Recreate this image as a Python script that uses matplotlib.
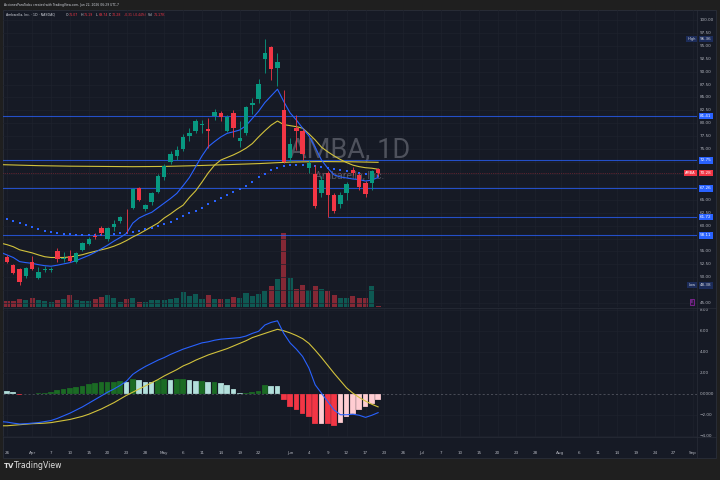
import matplotlib
matplotlib.use("Agg")
import matplotlib.pyplot as plt
import matplotlib.transforms as mtransforms
import numpy as np

# ---- data (trading-day index 0 = Mar 26 2026, 59 = Jun 22 2026) ----
opens = [53.8, 52.3, 51.6, 50.2, 52.9, 49.9, 51.3, 51.3, 55.1, 53.5,
         54.15, 53.0, 55.3, 56.5, 57.9, 59.6, 57.4, 59.8, 60.9, 61.7,
         63.5, 67.3, 63.2, 64.7, 66.6, 69.5, 72.5, 73.5, 75.0, 77.5,
         78.5, 79.7, 78.8, 81.4, 81.9, 78.5, 82.0, 76.6, 78.0, 83.5,
         84.6, 92.5, 94.9, 90.8, 82.6, 73.1, 79.0, 78.5, 71.2, 70.1,
         66.3, 70.3, 66.0, 64.2, 66.3, 70.9, 69.9, 68.4, 68.3, 71.07]
highs = [54.2, 52.6, 51.8, 52.0, 54.0, 51.9, 52.1, 52.0, 55.6, 54.8,
         55.2, 54.9, 56.8, 57.8, 58.5, 59.9, 59.8, 61.2, 61.8, 63.2,
         67.4, 67.6, 64.3, 66.6, 70.0, 72.0, 74.5, 75.5, 77.8, 79.0,
         80.8, 80.6, 81.0, 82.8, 82.3, 81.6, 82.5, 80.4, 83.4, 84.8,
         88.6, 96.36, 95.0, 93.7, 86.5, 77.0, 81.6, 78.8, 72.8, 71.8,
         69.6, 70.6, 66.4, 66.5, 68.5, 71.5, 70.2, 68.8, 70.9, 71.19]
lows = [52.8, 50.6, 48.38, 49.8, 51.3, 49.6, 50.9, 50.9, 53.0, 53.0,
        52.9, 52.8, 55.0, 56.2, 57.4, 58.2, 57.0, 58.9, 60.5, 58.5,
        63.2, 64.9, 62.8, 64.0, 66.4, 69.0, 72.0, 72.8, 74.5, 76.5,
        78.0, 78.0, 75.2, 80.6, 80.5, 78.2, 77.3, 75.3, 77.6, 81.8,
        84.0, 89.7, 88.4, 87.2, 72.2, 72.4, 74.8, 72.9, 70.2, 63.5,
        65.6, 61.72, 62.4, 63.4, 65.0, 69.8, 67.0, 65.6, 67.0, 69.74]
closes = [53.0, 50.8, 49.1, 51.8, 51.5, 51.0, 51.5, 51.5, 53.5, 53.6,
          53.1, 54.7, 56.6, 57.5, 57.8, 58.5, 59.6, 60.4, 61.6, 61.6,
          67.2, 65.0, 64.0, 66.3, 69.6, 71.6, 74.0, 74.8, 77.3, 78.0,
          80.4, 79.8, 78.4, 82.2, 81.1, 81.25, 79.0, 77.0, 83.1, 83.9,
          87.6, 93.6, 90.5, 91.85, 72.5, 75.9, 78.5, 74.0, 72.2, 63.8,
          69.0, 66.0, 62.9, 66.0, 68.1, 70.3, 67.5, 66.1, 70.59, 70.28]
volume_k = [285, 285, 385, 350, 435, 350, 315, 250, 335, 385,
            600, 350, 315, 285, 385, 485, 585, 435, 265, 415,
            465, 265, 235, 350, 350, 350, 415, 435, 765, 550,
            635, 415, 600, 415, 415, 415, 500, 450, 700, 550,
            650, 800, 1050, 1385, 3685, 1450, 925, 1100, 850, 1075,
            900, 800, 600, 475, 450, 550, 475, 475, 1075, 71.17]

# moving averages, index -1 .. 59
ma_fast = [54.8, 54.3, 53.8, 53.0, 52.8, 52.66, 52.4, 52.2, 52.1, 52.3,
           52.55, 52.8, 53.2, 53.7, 54.2, 54.8, 55.5, 56.2, 57.0, 57.7,
           58.5, 60.5, 61.5, 62.1, 62.6, 63.5, 64.4, 65.3, 66.3, 67.8,
           69.4, 71.5, 73.6, 75.4, 76.4, 77.3, 78.0, 78.3, 78.65, 79.5,
           80.9, 82.3, 84.0, 85.3, 86.6, 84.2, 82.0, 80.6, 79.0, 77.5,
           75.3, 72.8, 71.2, 69.9, 69.5, 69.3, 69.1, 69.0, 68.7, 68.9, 69.4]
ma_slow = [56.6, 56.3, 55.9, 55.3, 55.0, 54.7, 54.3, 53.95, 53.8, 53.8,
           53.8, 53.9, 54.1, 54.35, 54.7, 55.0, 55.3, 55.6, 56.0, 56.5,
           57.1, 57.8, 58.4, 59.1, 59.8, 60.5, 61.5, 62.3, 63.2, 64.0,
           65.5, 66.8, 68.5, 70.3, 71.8, 72.8, 73.3, 73.8, 74.4, 75.1,
           76.0, 77.3, 78.5, 79.6, 80.4, 79.7, 79.5, 79.3, 79.0, 77.9,
           76.7, 75.3, 74.4, 73.6, 72.9, 72.3, 71.8, 71.5, 71.3, 71.2, 71.0]
ma_long_idx = [-1, 5, 10, 15, 20, 25, 30, 35, 40, 45, 50, 55, 59]
ma_long = [71.9, 71.7, 71.6, 71.55, 71.5, 71.55, 71.7, 71.9, 72.1, 72.4, 72.5, 72.45, 72.35]
# dotted average, index 0 .. 59
ma_dots = [61.3, 60.97, 60.46, 60.1, 59.74, 59.4, 59.02, 58.77, 58.6, 58.38,
           58.3, 58.18, 58.15, 58.12, 58.12, 58.15, 58.2, 58.38, 58.5, 58.64,
           58.83, 59.0, 59.3, 59.6, 59.94, 60.4, 60.78, 61.26, 61.96, 62.4,
           62.9, 63.4, 64.17, 64.8, 65.45, 65.97, 66.5, 67.1, 67.8, 68.6,
           69.4, 70.1, 70.8, 71.3, 71.6, 71.8, 71.9, 71.9, 71.8, 71.6,
           71.4, 71.2, 71.0, 70.8, 70.6, 70.4, 70.2, 70.0, 69.8, 69.6]

# MACD, lines index -1 .. 59, histogram index 0 .. 59
macd_line = [-2.6, -2.65, -2.75, -2.83, -2.8, -2.75, -2.7, -2.6, -2.5, -2.3,
             -2.05, -1.8, -1.5, -1.2, -0.85, -0.5, -0.15, 0.2, 0.5, 0.85,
             1.25, 1.9, 2.3, 2.65, 2.95, 3.25, 3.5, 3.8, 4.05, 4.3,
             4.5, 4.7, 4.9, 5.0, 5.15, 5.25, 5.3, 5.35, 5.4, 5.55,
             5.8, 6.0, 6.6, 6.85, 7.0, 5.8, 4.9, 4.3, 3.6, 2.5,
             0.9, 0.1, -0.7, -1.5, -1.95, -1.95, -1.9, -2.0, -2.2, -2.0, -1.75]
signal_line = [-3.0, -3.0, -2.95, -2.9, -2.85, -2.8, -2.78, -2.75, -2.7, -2.6,
               -2.5, -2.4, -2.25, -2.1, -1.9, -1.65, -1.4, -1.1, -0.8, -0.45,
               -0.1, 0.2, 0.5, 0.8, 1.1, 1.4, 1.75, 2.05, 2.35, 2.7,
               2.95, 3.25, 3.5, 3.75, 3.95, 4.15, 4.35, 4.6, 4.85, 5.1,
               5.4, 5.6, 5.8, 6.0, 6.19, 6.05, 5.85, 5.6, 5.3, 4.85,
               4.2, 3.5, 2.75, 2.0, 1.3, 0.6, 0.1, -0.3, -0.65, -0.95, -1.2]
macd_hist = [0.35, 0.19, -0.03, 0.02, 0.06, 0.13, 0.16, 0.25, 0.41, 0.54,
             0.57, 0.67, 0.83, 1.02, 1.08, 1.14, 1.17, 1.18, 1.24, 1.2,
             1.46, 1.4, 1.21, 1.17, 1.37, 1.43, 1.33, 1.46, 1.49, 1.33,
             1.27, 1.30, 1.14, 1.21, 1.05, 0.89, 0.54, 0.12, 0.13, 0.19,
             0.35, 0.86, 0.83, 0.82, -0.57, -1.24, -1.49, -1.87, -2.19, -2.86,
             -2.83, -2.86, -3.02, -2.7, -2.19, -1.9, -1.49, -1.24, -0.92, -0.57]

levels = [81.41, 72.75, 67.26, 58.11]
ray_level = 61.72
ray_start = 51
last_close = 70.28
high_mark = 96.36
low_mark = 48.38

tick_idx = [0, 4, 7, 10, 13, 16, 19, 22, 25, 28, 31, 34, 37, 40, 45, 48, 51, 54,
            57, 60, 63, 66, 69, 72, 75, 78, 81, 84, 88, 91, 94, 97, 100, 103, 106, 109]
tick_lbl = ["26", "Apr", "7", "10", "15", "20", "23", "28", "May", "6", "11", "14",
            "19", "22", "Jun", "4", "9", "12", "17", "23", "26", "Jul", "7", "10",
            "15", "20", "23", "28", "Aug", "6", "11", "14", "19", "24", "27", "Sep"]
price_ticks = [100.0, 97.5, 95.0, 92.5, 90.0, 87.5, 85.0, 82.5, 80.0, 77.5, 75.0,
               65.0, 62.5, 60.0, 55.0, 52.5, 50.0, 45.0]
grid_prices = [100.0, 97.5, 95.0, 92.5, 90.0, 87.5, 85.0, 82.5, 80.0, 77.5, 75.0,
               72.5, 70.0, 67.5, 65.0, 62.5, 60.0, 57.5, 55.0, 52.5, 50.0, 47.5, 45.0]
macd_ticks = [8, 6, 4, 2, 0, -2, -4]

# ---- style ----
BG = "#161a25"
OUTER = "#1f1f1f"
GRID = "#1e222d"
BORDER = "#2a2e39"
TXT = "#b2b5be"
UP = "#089981"
DOWN = "#f23645"
BLUE = "#2962ff"
YEL = "#d2c23c"

W, H = 720, 480


def box(x0, y0, x1, y1):
    return [x0 / W, 1 - y1 / H, (x1 - x0) / W, (y1 - y0) / H]


fig = plt.figure(figsize=(7.2, 4.8), dpi=100, facecolor=OUTER)
fig.add_artist(plt.Rectangle((3 / W, 1 - 458 / H), 713 / W, 448 / H, zorder=-5,
                             transform=fig.transFigure, fc=BG, ec=BORDER, lw=0.6))

x = np.arange(len(closes))
o, h, l, c = map(np.array, (opens, highs, lows, closes))
cols = np.where(c >= o, UP, DOWN)

XMIN, XMAX = -0.636, 109.7

# volume underneath the price pane
ax_v = fig.add_axes(box(3, 10, 697, 307), label="vol")
ax_v.set_facecolor("none")
ax_v.bar(x, volume_k, width=0.8, color=cols, alpha=0.5, linewidth=0)
ax_v.set_xlim(XMIN, XMAX)
ax_v.set_ylim(0, 14850)
ax_v.axis("off")

# price pane
ax = fig.add_axes(box(3, 10, 697, 307), label="price")
ax.set_facecolor("none")
ax.set_xlim(XMIN, XMAX)
ax.set_ylim(44.15, 102.04)
for gp in grid_prices:
    ax.axhline(gp, color=GRID, lw=0.5, zorder=0)
for ti in tick_idx:
    ax.axvline(ti, color=GRID, lw=0.5, zorder=0)

# watermark
wm_x = (350 - 3) / 694
ax.text(wm_x, 1 - (150 - 10) / 297, "AMBA, 1D", transform=ax.transAxes, ha="center", va="center",
        fontsize=19.5, family="Roboto", color="#b2b5be", alpha=0.36, zorder=1)
ax.text(wm_x, 1 - (175 - 10) / 297, "Ambarella, Inc.", transform=ax.transAxes, ha="center",
        va="center", fontsize=7.6, family="Roboto", color="#b2b5be", alpha=0.4, zorder=1)

# levels
for lv in levels:
    ax.axhline(lv, color=BLUE, lw=0.8, alpha=0.75, zorder=2)
ax.hlines(ray_level, ray_start, XMAX, color=BLUE, lw=0.8, alpha=0.75, zorder=2)
ax.axhline(last_close, color=DOWN, lw=0.5, ls=":", alpha=0.6, zorder=2)

# moving averages
xi = np.arange(-1, len(closes))
ax.plot(ma_long_idx, ma_long, color=YEL, lw=0.8, zorder=2.5)
ax.plot(xi, ma_slow, color=YEL, lw=0.8, zorder=2.5)
ax.plot(xi, ma_fast, color=BLUE, lw=0.8, zorder=2.5)
ax.plot(x, ma_dots, ls="none", marker="s", ms=1.5, mew=0, color=BLUE, zorder=2.5)

# candles
ax.vlines(x, l, h, color=cols, lw=0.6, zorder=3)
body = np.maximum(np.abs(c - o), 0.15)
ax.bar(x, body, bottom=np.minimum(o, c), width=0.7, color=cols, linewidth=0, zorder=4)

for s in ax.spines.values():
    s.set_visible(False)
ax.set_xticks([])
ax.set_yticks([])

# right price scale
ty = mtransforms.blended_transform_factory(ax.transAxes, ax.transData)
lx = (700 - 3) / 694
for pt in price_ticks:
    ax.text(lx, pt, f"{pt:.2f}", transform=ty, ha="left", va="center",
            fontsize=3, color=TXT, clip_on=False)
tag = dict(boxstyle="square,pad=0.3", ec="none")
for lv in levels + [ray_level]:
    ax.text(lx, lv, f"{lv:.2f}", transform=ty, ha="left", va="center", fontsize=3,
            color="white", clip_on=False, bbox=dict(tag, fc=BLUE))
ax.text(lx, last_close, f"{last_close:.2f}", transform=ty, ha="left", va="center",
        fontsize=3, color="white", clip_on=False, bbox=dict(tag, fc=DOWN))
ax.text(0.998, last_close, "AMBA", transform=ty, ha="right", va="center",
        fontsize=2.6, color="white", clip_on=False, bbox=dict(tag, fc=DOWN))
for val, name in ((high_mark, "High"), (low_mark, "Low")):
    ax.text(lx, val, f"{val:.2f}", transform=ty, ha="left", va="center", fontsize=3,
            color="#d1d4dc", clip_on=False, bbox=dict(tag, fc="#1c2c5a"))
    ax.text(0.998, val, name, transform=ty, ha="right", va="center", fontsize=2.6,
            color="#d1d4dc", clip_on=False, bbox=dict(tag, fc="#1c2c5a"))
# purple marker at the bottom right of the price pane
ax.text((692 - 3) / 694, 1 - (302 - 10) / 297, "E", transform=ax.transAxes, ha="center",
        va="center", fontsize=2.6, color="#b040d0", clip_on=False,
        bbox=dict(boxstyle="square,pad=0.35", fc="#2a1838", ec="#9c27b0", lw=0.5))

# MACD pane
axm = fig.add_axes(box(3, 308, 697, 437), label="macd")
axm.set_facecolor("none")
axm.set_xlim(XMIN, XMAX)
axm.set_ylim(-4.07, 8.22)
for mt in macd_ticks:
    if mt != 0:
        axm.axhline(mt, color=GRID, lw=0.5, zorder=0)
for ti in tick_idx:
    axm.axvline(ti, color=GRID, lw=0.5, zorder=0)
axm.axhline(0, color="#5d606b", lw=0.5, ls=(0, (3, 3)), zorder=0.5)

hist = np.array(macd_hist)
prev = np.concatenate([[0.5], hist[:-1]])
hcols = np.where(hist >= 0,
                 np.where(hist > prev, "#1b6b24", "#b2dfdb"),
                 np.where(hist > prev, "#ffcdd2", DOWN))
axm.bar(x, hist, width=0.9, color=hcols, edgecolor=BG, linewidth=0.15, zorder=1)
axm.plot(xi, signal_line, color=YEL, lw=0.8, zorder=2)
axm.plot(xi, macd_line, color=BLUE, lw=0.8, zorder=2)
for s in axm.spines.values():
    s.set_visible(False)
axm.set_xticks([])
axm.set_yticks([])
tm = mtransforms.blended_transform_factory(axm.transAxes, axm.transData)
for mt in macd_ticks:
    lbl = "0.0000" if mt == 0 else f"{mt:.2f}".replace("-", "\u2212")
    axm.text(lx, mt, lbl, transform=tm, ha="left", va="center", fontsize=3,
             color=TXT, clip_on=False)

# time scale
tt = mtransforms.blended_transform_factory(axm.transData, axm.transAxes)
for ti, tl in zip(tick_idx, tick_lbl):
    axm.text(ti, -(453 - 437) / 129, tl, transform=tt, ha="center", va="center",
             fontsize=3, color=TXT, clip_on=False)

# separators
for (x0, y0, x1, y1) in ((3, 307.5, 716, 307.5), (3, 437, 716, 437), (697, 10, 697, 458)):
    fig.add_artist(plt.Line2D([x0 / W, x1 / W], [1 - y0 / H, 1 - y1 / H],
                              transform=fig.transFigure, color=BORDER, lw=0.5))

# header and legend
fig.text(4 / W, 1 - 5 / H, "AccionesParaTodos created with TradingView.com, Jun 22, 2026 06:29 UTC-7",
         fontsize=2.2, color="#d1d4dc", va="center")
fig.text(6 / W, 1 - 14.5 / H, "Ambarella, Inc. \u00b7 1D \u00b7 NASDAQ", fontsize=2.3,
         color="#d1d4dc", va="center")
for xp, key, val in ((66, "O", "71.07"), (81, "H", "71.19"), (96, "L", "69.74"), (109, "C", "70.28")):
    fig.text(xp / W, 1 - 14.5 / H, key, fontsize=2.3, color="#d1d4dc", va="center")
    fig.text((xp + 2.5) / W, 1 - 14.5 / H, val, fontsize=2.3, color=DOWN, va="center")
fig.text(124 / W, 1 - 14.5 / H, "-0.31 (-0.44%)", fontsize=2.2, color=DOWN, va="center")
fig.text(148 / W, 1 - 14.5 / H, "Vol", fontsize=2.3, color="#d1d4dc", va="center")
fig.text(153.5 / W, 1 - 14.5 / H, "71.17K", fontsize=2.3, color=DOWN, va="center")

# footer logo
fig.text(4 / W, 1 - 466 / H, "TV", fontsize=5, fontweight="heavy", color="#e0e0e0", va="center")
fig.text(13.5 / W, 1 - 466 / H, "TradingView", fontsize=5.6, color="#e0e0e0", va="center")

fig.savefig("out.png", dpi=100, facecolor=OUTER)
